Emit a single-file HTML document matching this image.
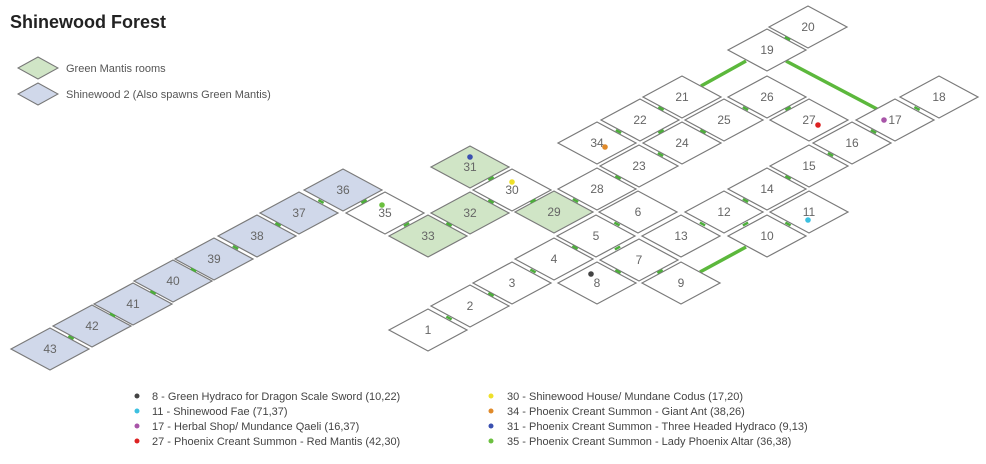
<!DOCTYPE html>
<html><head><meta charset="utf-8"><style>
html,body{margin:0;padding:0;background:#fff;}
svg{display:block;}
text{font-family:"Liberation Sans",sans-serif;}
</style></head><body>
<svg width="986" height="464" viewBox="0 0 986 464" xmlns="http://www.w3.org/2000/svg">
<text x="10" y="28" font-size="18" font-weight="bold" fill="#222">Shinewood Forest</text>
<polygon points="18,68 38,57 58,68 38,79" fill="#d0e5c6" stroke="#777" stroke-width="1"/>
<text x="66" y="72" font-size="11" fill="#555">Green Mantis rooms</text>
<polygon points="18,94 38,83 58,94 38,105" fill="#d0d8ea" stroke="#777" stroke-width="1"/>
<text x="66" y="98" font-size="11" fill="#555">Shinewood 2  (Also spawns Green Mantis)</text>

<g stroke="#5cb83c" stroke-width="3.5">
<line x1="701" y1="86" x2="746" y2="61"/>
<line x1="786" y1="61" x2="877" y2="109"/>
<line x1="746" y1="247" x2="700" y2="272"/>
</g>

<g id="rooms" stroke="#7a7a7a" stroke-width="1.2" font-size="12" text-anchor="middle">
</g>
<g id="marks"></g>
<g id="dots"></g>

<g font-size="11" fill="#444">
<circle cx="137" cy="396" r="2.5" fill="#444"/><text x="152" y="400">8 - Green Hydraco for Dragon Scale Sword (10,22)</text>
<circle cx="137" cy="411" r="2.5" fill="#3cc0e0"/><text x="152" y="415">11 - Shinewood Fae (71,37)</text>
<circle cx="137" cy="426" r="2.5" fill="#a855a8"/><text x="152" y="430">17 - Herbal Shop/ Mundance Qaeli (16,37)</text>
<circle cx="137" cy="441" r="2.5" fill="#dd2222"/><text x="152" y="445">27 - Phoenix Creant Summon - Red Mantis (42,30)</text>
<circle cx="491" cy="396" r="2.5" fill="#eee02a"/><text x="507" y="400">30 - Shinewood House/ Mundane Codus (17,20)</text>
<circle cx="491" cy="411" r="2.5" fill="#e08a2a"/><text x="507" y="415">34 - Phoenix Creant Summon - Giant Ant (38,26)</text>
<circle cx="491" cy="426" r="2.5" fill="#3a50b0"/><text x="507" y="430">31 - Phoenix Creant Summon - Three Headed Hydraco (9,13)</text>
<circle cx="491" cy="441" r="2.5" fill="#6cc040"/><text x="507" y="445">35 - Phoenix Creant Summon - Lady Phoenix Altar (36,38)</text>
</g>
</svg>
<script>
var R={1:[428,330],2:[470,306],3:[512,283],4:[554,259],5:[596,236],6:[638,212],7:[639,260],8:[597,283],9:[681,283],10:[767,236],11:[809,212],12:[724,212],13:[681,236],14:[767,189],15:[809,166],16:[852,143],17:[895,120],18:[939,97],19:[767,50],20:[808,27],21:[682,97],22:[640,120],23:[639,166],24:[682,143],25:[724,120],26:[767,97],27:[809,120],28:[597,189],29:[554,212],30:[512,190],31:[470,167],32:[470,213],33:[428,236],34:[597,143],35:[385,213],36:[343,190],37:[299,213],38:[257,236],39:[214,259],40:[173,281],41:[133,304],42:[92,326],43:[50,349]};
var G=[29,31,32,33],B=[36,37,38,39,40,41,42,43];
var NS="http://www.w3.org/2000/svg";
function el(t,a,p){var e=document.createElementNS(NS,t);for(var k in a)e.setAttribute(k,a[k]);p.appendChild(e);return e;}
var rg=document.getElementById("rooms");
for(var k in R){var c=R[k],x=c[0],y=c[1],n=+k;
var f=G.indexOf(n)>=0?"#d0e5c6":(B.indexOf(n)>=0?"#d0d8ea":"#fff");
el("polygon",{points:(x-39)+","+y+" "+x+","+(y-21)+" "+(x+39)+","+y+" "+x+","+(y+21),fill:f},rg);
var t=el("text",{x:x,y:y+4,fill:"#666",stroke:"none"},rg);t.textContent=k;}
var P=[[1,2],[2,3],[3,4],[4,5],[5,6],[5,7],[7,8],[7,9],[13,12],[12,14],[12,10],[10,11],[14,15],[15,16],[16,17],[17,18],[19,20],[29,28],[28,23],[23,24],[34,22],[22,24],[21,22],[24,25],[25,26],[26,27],[30,29],[31,30],[30,32],[32,33],[33,35],[35,36],[36,37],[37,38],[38,39],[39,40],[40,41],[41,42],[42,43]];
var mg=document.getElementById("marks");
P.forEach(function(p){var a=R[p[0]],b=R[p[1]];var mx=(a[0]+b[0])/2,my=(a[1]+b[1])/2;
var dx=b[0]-a[0],dy=b[1]-a[1];var ux=dx>0?1:-1,uy=dy>0?1:-1;
// gap direction perpendicular-ish: swap sign of y
var gx=42,gy=(dx*dy>0)?-23.5:23.5;var L=Math.sqrt(gx*gx+gy*gy);gx=gx/L*3;gy=gy/L*3;
el("line",{x1:mx-gx,y1:my-gy,x2:mx+gx,y2:my+gy,stroke:"#4caf3a","stroke-width":2.5},mg);});
var dg=document.getElementById("dots");
[[470,157,"#3a50b0"],[512,182,"#eee02a"],[382,205,"#6cc040"],[591,274,"#444"],[605,147,"#e08a2a"],[818,125,"#dd2222"],[884,120,"#a855a8"],[808,220,"#3cc0e0"]].forEach(function(d){el("circle",{cx:d[0],cy:d[1],r:2.8,fill:d[2]},dg);});
</script>
</body></html>
